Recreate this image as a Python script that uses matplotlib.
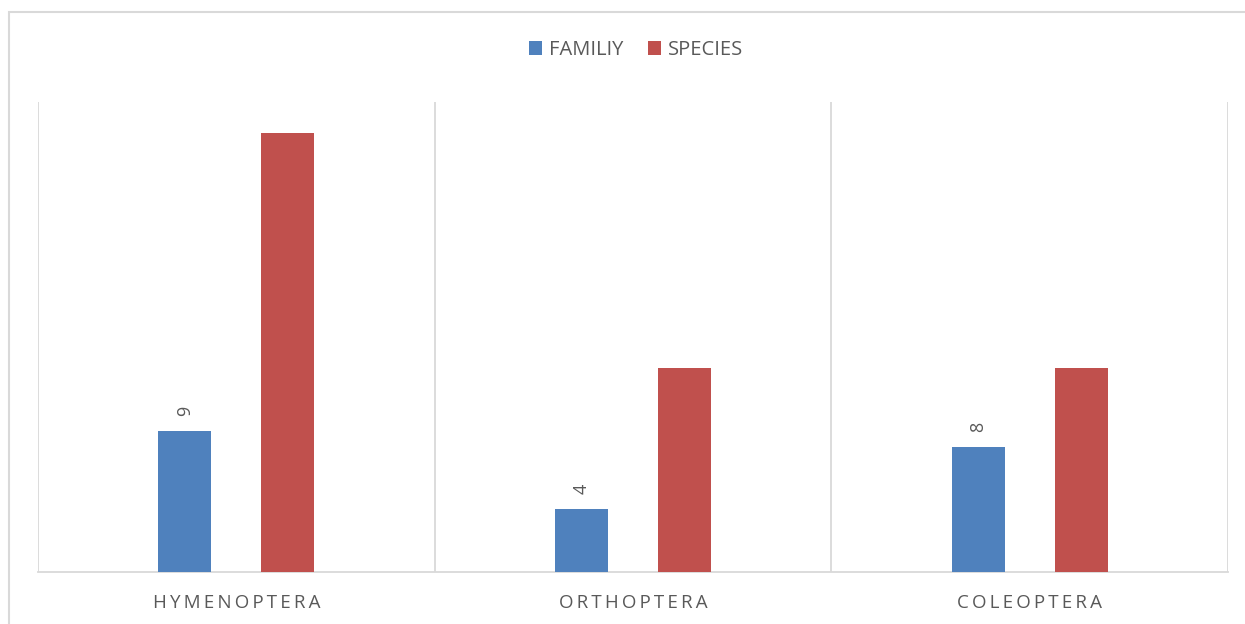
import matplotlib
matplotlib.use("Agg")
import matplotlib.pyplot as plt
from matplotlib.patches import Rectangle
import numpy as np

categories = ["HYMENOPTERA", "ORTHOPTERA", "COLEOPTERA"]
family_counts = [9, 4, 8]
species_counts = [28, 13, 13]
series_names = ["FAMILIY", "SPECIES"]

BLUE = "#4F81BD"
RED = "#C0504D"
GRID = "#D9D9D9"
TEXT = "#595959"
FONT = ["Open Sans", "DejaVu Sans"]

plt.rcParams["font.family"] = FONT

fig = plt.figure(figsize=(12.45, 6.24), dpi=100)
ax = fig.add_axes([38 / 1245, 52 / 624, (1228 - 38) / 1245, (572 - 102) / 624])

x = np.arange(len(categories))
width = 0.134
offset = 0.13

bars_fam = ax.bar(x - offset, family_counts, width, color=BLUE, label=series_names[0], zorder=3)
bars_sp = ax.bar(x + offset, species_counts, width, color=RED, label=series_names[1], zorder=3)

for rect, val in zip(bars_fam, family_counts):
    ax.annotate(str(val), (rect.get_x() + rect.get_width() / 2, rect.get_height()),
                xytext=(0, 15), textcoords="offset pixels", rotation=90,
                ha="center", va="bottom", fontsize=13, color=TEXT)

ax.set_xlim(-0.5, len(categories) - 0.5)
ax.set_ylim(0, 30)

# category separators
for sep in np.arange(-0.5, len(categories), 1.0):
    ax.axvline(sep, color=GRID, lw=1.3, zorder=1)

ax.set_yticks([])
ax.set_xticks(x)
ax.set_xticklabels(["\u2009".join(c) for c in categories], fontsize=13.5, color=TEXT)
ax.tick_params(axis="x", length=0, pad=16)
for side in ["top", "left", "right"]:
    ax.spines[side].set_visible(False)
ax.spines["bottom"].set_color(GRID)
ax.spines["bottom"].set_linewidth(1.3)

fig.legend(handles=[bars_fam, bars_sp], labels=series_names, loc="center",
           bbox_to_anchor=(636 / 1245, 1 - 50 / 624), ncol=2, frameon=False,
           fontsize=14.5, labelcolor=TEXT, handlelength=0.65, handleheight=0.65,
           handletextpad=0.35, columnspacing=1.2)

# chart area border
fig.patches.append(Rectangle((8.5 / 1245, -0.2), 1.5, 1.2 - 11.5 / 624,
                             transform=fig.transFigure, fill=False,
                             edgecolor=GRID, lw=1.5))

fig.savefig("out.png", dpi=100, facecolor="white")
